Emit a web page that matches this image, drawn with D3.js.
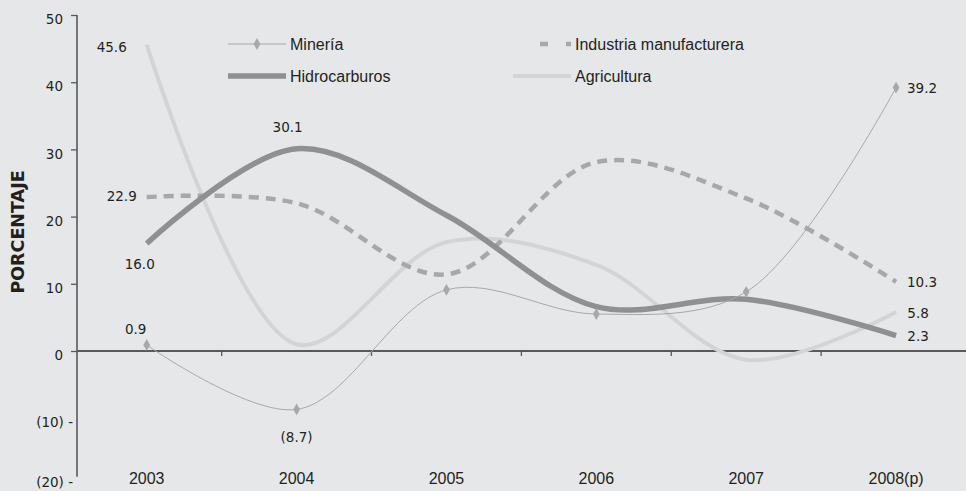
<!DOCTYPE html>
<html><head><meta charset="utf-8">
<script src="https://cdn.jsdelivr.net/npm/d3@7"></script>
<style>
html,body{margin:0;padding:0;background:#e6e7e8;}
svg{display:block;}
</style></head>
<body>
<svg id="c" width="966" height="491"></svg>
<script>
const categories = ["2003","2004","2005","2006","2007","2008(p)"];
const mineria = [0.9, -8.7, 9.1, 5.5, 8.8, 39.2];
const industria = [22.9, 22.0, 11.4, 28.1, 22.7, 10.3];
const hidrocarburos = [16.0, 30.1, 20.2, 6.6, 7.7, 2.3];
const agricultura = [45.6, 1.0, 16.2, 12.8, -1.3, 5.8];
const yTicks = [50, 40, 30, 20, 10, 0, -10, -20];
const seriesNames = ["Minería", "Industria manufacturera", "Hidrocarburos", "Agricultura"];

const svg = d3.select("#c");
const W = 966, H = 491;
svg.append("rect").attr("width", W).attr("height", H).attr("fill", "#e6e7e8");

const x = d3.scaleBand().domain(categories).range([71.8, 971]);
const cx = c => x(c) + x.bandwidth() / 2;
const y = d3.scaleLinear().domain([-20, 50]).range([485.4, 15]);

const txt = "#231f20";
const axisCol = "#58595b";
const fontV = "'DejaVu Sans', Verdana, sans-serif";
const fontN = "'Liberation Sans', Arial, sans-serif";

// Y axis
const yAxis = d3.axisLeft(y).tickValues(yTicks).tickSize(6).tickPadding(8)
  .tickFormat(v => v < 0 ? "(" + Math.abs(v) + ") -" : String(v));
const ga = svg.append("g").attr("transform", "translate(77,0)").call(yAxis);
ga.select(".domain").remove();
ga.selectAll(".tick line").attr("stroke", axisCol).attr("stroke-width", 1.3)
  .attr("display", d => d < 0 ? "none" : null);
ga.selectAll(".tick text").attr("fill", txt).style("font-family", fontV).style("font-size", "13.5px")
  .attr("x", d => d < 0 ? -4 : -14).attr("dy", d => d === -20 ? "0.1em" : "0.65em");
ga.append("line").attr("x1", 0).attr("x2", 0).attr("y1", y(50)).attr("y2", y(-18.7))
  .attr("stroke", axisCol).attr("stroke-width", 1.6);

// X axis at 0
svg.append("line").attr("x1", 77).attr("x2", W).attr("y1", y(0)).attr("y2", y(0))
  .attr("stroke", axisCol).attr("stroke-width", 1.8);
svg.selectAll(".xt").data(categories.slice(1)).enter().append("line")
  .attr("x1", d => x(d)).attr("x2", d => x(d)).attr("y1", y(0)).attr("y2", y(0) + 5)
  .attr("stroke", axisCol).attr("stroke-width", 1.3);
svg.selectAll(".xl").data(categories).enter().append("text")
  .attr("x", d => cx(d)).attr("y", 484).attr("text-anchor", "middle")
  .attr("fill", txt).style("font-family", fontN).style("font-size", "16px").text(d => d);

// Y title
svg.append("text").attr("transform", "translate(24,232) rotate(-90)").attr("text-anchor", "middle")
  .attr("fill", txt).style("font-family", fontV).style("font-size", "17.5px").style("font-weight", "bold")
  .text("PORCENTAJE");

const line = d3.line().x((d, i) => cx(categories[i])).y(d => y(d)).curve(d3.curveCatmullRom.alpha(0.5));

const styles = {
  agr: {stroke: "#d3d4d5", w: 4},
  ind: {stroke: "#a7a8aa", w: 4.5, dash: "10,7"},
  hid: {stroke: "#8f9092", w: 5.5},
  min: {stroke: "#a7a8aa", w: 1}
};
function draw(data, s) {
  svg.append("path").attr("d", line(data)).attr("fill", "none").attr("stroke", s.stroke)
    .attr("stroke-width", s.w).attr("stroke-dasharray", s.dash || null);
}
draw(agricultura, styles.agr);
draw(industria, styles.ind);
draw(hidrocarburos, styles.hid);
draw(mineria, styles.min);
const diamond = d3.symbol().type(d3.symbolDiamond).size(40);
svg.selectAll(".dm").data(mineria).enter().append("path")
  .attr("d", diamond).attr("transform", (d, i) => `translate(${cx(categories[i])},${y(d)})`)
  .attr("fill", "#a7a8aa");

// data labels
const fmt = v => v < 0 ? "(" + Math.abs(v).toFixed(1) + ")" : v.toFixed(1);
const labels = [
  {s: agricultura, i: 0, dx: -35, dy: 3},
  {s: industria, i: 0, dx: -25, dy: -1},
  {s: hidrocarburos, i: 0, dx: -7, dy: 21},
  {s: mineria, i: 0, dx: -11, dy: -16},
  {s: hidrocarburos, i: 1, dx: -9, dy: -21},
  {s: mineria, i: 1, dx: 0, dy: 28},
  {s: mineria, i: 5, dx: 26, dy: 1},
  {s: industria, i: 5, dx: 26, dy: 0},
  {s: agricultura, i: 5, dx: 22, dy: 1},
  {s: hidrocarburos, i: 5, dx: 22, dy: 1}
];
labels.forEach(l => {
  svg.append("text").attr("x", cx(categories[l.i]) + l.dx).attr("y", y(l.s[l.i]) + l.dy)
    .attr("dy", "0.35em").attr("text-anchor", "middle").attr("fill", txt)
    .style("font-family", fontV).style("font-size", "13.5px").text(fmt(l.s[l.i]));
});

// legend
const leg = [
  {name: seriesNames[0], s: styles.min, x: 228, y: 44, marker: true},
  {name: seriesNames[1], s: styles.ind, x: 513, y: 44},
  {name: seriesNames[2], s: styles.hid, x: 228, y: 76},
  {name: seriesNames[3], s: styles.agr, x: 513, y: 76}
];
leg.forEach(l => {
  const g = svg.append("g").attr("transform", `translate(${l.x},${l.y})`);
  g.append("line").attr("x1", l.s.dash ? 27 : 0).attr("x2", 58).attr("stroke", l.s.stroke)
    .attr("stroke-width", l.s.w).attr("stroke-dasharray", l.s.dash ? "8,18,5,100" : null);
  if (l.marker) g.append("path").attr("d", diamond).attr("transform", "translate(29,0)").attr("fill", "#a7a8aa");
  g.append("text").attr("x", 62).attr("dy", "0.35em").attr("fill", txt)
    .style("font-family", fontN).style("font-size", "16px").text(l.name);
});
</script>
</body></html>
